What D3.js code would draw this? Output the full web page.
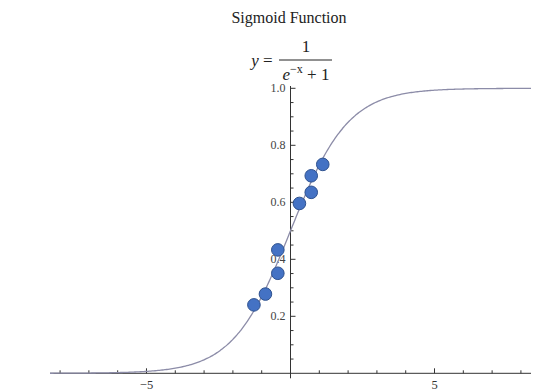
<!DOCTYPE html>
<html>
<head>
<meta charset="utf-8">
<script src="https://cdnjs.cloudflare.com/ajax/libs/d3/7.8.5/d3.min.js"></script>
<style>
body { margin: 0; background: #fff; }
svg text { font-family: "Liberation Serif", "DejaVu Serif", serif; }
</style>
</head>
<body>
<div id="chart"></div>
<script>
// data
var pts_x = [-1.27, -0.87, -0.44, -0.44, 0.31, 0.72, 0.72, 1.12];
var pts_y = [0.24, 0.278, 0.351, 0.433, 0.596, 0.635, 0.693, 0.733];
var yMajor = [0.2, 0.4, 0.6, 0.8, 1.0];
var xMajor = [-5, 5];
var xDomain = [-8.35, 8.35];
var yDomain = [0, 1];

var W = 552, H = 392;
var svg = d3.select("#chart").append("svg")
	.attr("width", W)
	.attr("height", H);

var x = d3.scaleLinear().domain(xDomain).range([50, 531]);
var y = d3.scaleLinear().domain(yDomain).range([373.3, 88.3]);

/* titles */
svg.append("text")
	.attr("x", 289).attr("y", 23)
	.attr("text-anchor", "middle")
	.attr("font-size", 16)
	.attr("fill", "#222")
	.text("Sigmoid Function");

var eq = svg.append("g").attr("fill", "#222");
eq.append("text").attr("x", 262).attr("y", 66).attr("text-anchor", "middle")
	.attr("font-size", 17)
	.html('<tspan font-style="italic">y</tspan> =');
eq.append("line")
	.attr("x1", 279).attr("x2", 332).attr("y1", 60).attr("y2", 60)
	.attr("stroke", "#222").attr("stroke-width", 1);
eq.append("text").attr("x", 306).attr("y", 52).attr("text-anchor", "middle")
	.attr("font-size", 17).text("1");
eq.append("text").attr("x", 306).attr("y", 80).attr("text-anchor", "middle")
	.attr("font-size", 17)
	.html('<tspan font-style="italic">e</tspan><tspan dy="-7" font-size="12">\u2212x</tspan><tspan dy="7"> + 1</tspan>');

/* axes */
var axisCol = "#333";
svg.append("line")
	.attr("x1", x(xDomain[0])).attr("x2", x(xDomain[1]))
	.attr("y1", y(0)).attr("y2", y(0))
	.attr("stroke", axisCol).attr("stroke-width", 1);
svg.append("line")
	.attr("x1", x(0)).attr("x2", x(0))
	.attr("y1", 86).attr("y2", y(0) + 5)
	.attr("stroke", axisCol).attr("stroke-width", 1);

// x ticks (pointing up)
var xt = d3.range(-8, 9).filter(function(d){ return d != 0; });
svg.selectAll(".xt").data(xt).enter().append("line")
	.attr("x1", function(d){ return x(d); })
	.attr("x2", function(d){ return x(d); })
	.attr("y1", y(0))
	.attr("y2", function(d){ return y(0) - (xMajor.indexOf(d) >= 0 ? 5 : 3); })
	.attr("stroke", axisCol).attr("stroke-width", 1);
svg.selectAll(".xl").data(xMajor).enter().append("text")
	.attr("x", function(d){ return x(d); })
	.attr("y", 389)
	.attr("text-anchor", "middle")
	.attr("font-size", 12.5)
	.attr("fill", "#333")
	.text(function(d){ return d < 0 ? "\u2212" + Math.abs(d) : d; });

// y ticks (pointing right)
var yt = d3.range(1, 21).map(function(d){ return d * 0.05; });
svg.selectAll(".yt").data(yt).enter().append("line")
	.attr("x1", x(0))
	.attr("x2", function(d){ return x(0) + (Math.abs(d*5 - Math.round(d*5)) < 1e-6 ? 5 : 3); })
	.attr("y1", function(d){ return y(d); })
	.attr("y2", function(d){ return y(d); })
	.attr("stroke", axisCol).attr("stroke-width", 1);
svg.selectAll(".yl").data(yMajor).enter().append("text")
	.attr("x", x(0) - 5)
	.attr("y", function(d){ return y(d) + 4; })
	.attr("text-anchor", "end")
	.attr("font-size", 12)
	.attr("fill", "#444")
	.text(function(d){ return d3.format(".1f")(d); });

/* curve: the plotted function itself, y = 1/(e^-x + 1) */
var cx = d3.range(xDomain[0], xDomain[1] + 0.01, 0.05);
var line = d3.line()
	.x(function(d){ return x(d); })
	.y(function(d){ return y(1 / (Math.exp(-d) + 1)); })
	.curve(d3.curveMonotoneX);
svg.append("path")
	.datum(cx)
	.attr("d", line)
	.attr("fill", "none")
	.attr("stroke", "#8c8ca8")
	.attr("stroke-width", 1.3);

/* points */
svg.selectAll(".pt").data(pts_x).enter().append("circle")
	.attr("cx", function(d){ return x(d); })
	.attr("cy", function(d, i){ return y(pts_y[i]); })
	.attr("r", 6.3)
	.attr("fill", "#4472c4")
	.attr("stroke", "#2f528f")
	.attr("stroke-width", 1);
</script>
</body>
</html>
